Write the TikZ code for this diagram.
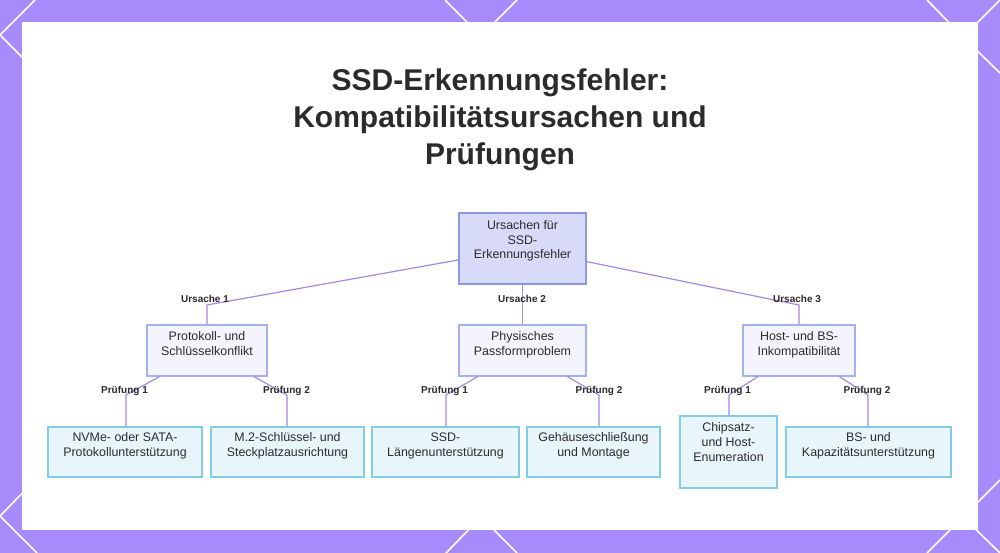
\documentclass[tikz,border=0pt]{standalone}
\usepackage{fontspec}
\setmainfont{Liberation Sans}
\usetikzlibrary{positioning, calc}
\definecolor{VioletBg}{HTML}{A78BFA}
\definecolor{LinkColor}{HTML}{A48AE0}
\definecolor{RootFill}{HTML}{D7DBF8}
\definecolor{RootDraw}{HTML}{8C97E0}
\definecolor{MidFill}{HTML}{F3F4FE}
\definecolor{MidDraw}{HTML}{A3B1EE}
\definecolor{LeafFill}{HTML}{E8F6FC}
\definecolor{LeafDraw}{HTML}{80CDE5}
\definecolor{TextDark}{HTML}{2B2B2B}

\begin{document}
\begin{tikzpicture}[
        x=0.75pt, y=-0.75pt,
        box/.style={rectangle, draw=MidDraw, fill=MidFill, line width=0.9pt, align=center, inner sep=2pt, text depth=11pt, text=TextDark, font=\fontsize{9.3}{11.25}\selectfont},
        rootbox/.style={box, draw=RootDraw, fill=RootFill, text depth=13pt},
        leafbox/.style={box, draw=LeafDraw, fill=LeafFill, minimum height=37.5pt, text depth=11.5pt},
        link/.style={draw=LinkColor, line width=0.9pt},
        lbl/.style={font=\fontsize{7.5}{9}\selectfont\bfseries, text=TextDark, inner sep=1pt},
        hexline/.style={draw=white, line width=1.2pt}
      ]
        \useasboundingbox (0,0) rectangle (1000,553);
        % Background
        \fill[VioletBg] (0,0) rectangle (1000,553);
        \draw[hexline] (35,0) -- (0,35) -- (40,75);
        \draw[hexline] (40,475) -- (0,516) -- (37,553);
        \draw[hexline] (445,0) -- (481,36) -- (517,0);
        \draw[hexline] (446,553) -- (481,517) -- (517,553);
        \draw[hexline] (927,0) -- (963,37) -- (1000,0);
        \draw[hexline] (963,37) -- (1000,73);
        \draw[hexline] (927,553) -- (963,517) -- (1000,553);
        \draw[hexline] (963,517) -- (1000,480);
        \fill[white] (22,22) rectangle (978,530);

        % Title
        \node[font=\fontsize{22.5}{27.75}\selectfont\bfseries, text=TextDark, align=center] (title) at (500,120)
          {SSD-Erkennungsfehler:\\Kompatibilitätsursachen und\\Prüfungen};

        % Nodes
        \node[rootbox, minimum width=95.25pt, minimum height=53.25pt, font=\fontsize{9.3}{10.9}\selectfont] (root) at (522.5,248.5)
          {Ursachen für\\SSD-\\Erkennungsfehler};
        \node[box, minimum width=90pt, minimum height=38.25pt] (proto) at (207,350.5) {Protokoll- und\\Schlüsselkonflikt};
        \node[box, minimum width=95.25pt, minimum height=38.25pt] (phys) at (522.5,350.5) {Physisches\\Passformproblem};
        \node[box, minimum width=84pt, minimum height=38.25pt] (host) at (799,350.5) {Host- und BS-\\Inkompatibilität};

        \node[leafbox, minimum width=115.5pt] (nvme) at (125,452) {NVMe- oder SATA-\\Protokollunterstützung};
        \node[leafbox, minimum width=114.75pt] (mkey) at (287.5,452) {M.2-Schlüssel- und\\Steckplatzausrichtung};
        \node[leafbox, minimum width=110.25pt] (laenge) at (445.5,452) {SSD-\\Längenunterstützung};
        \node[leafbox, minimum width=99.75pt] (gehaeuse) at (593.5,452) {Gehäuseschließung\\und Montage};
        \node[leafbox, minimum width=72.75pt, minimum height=54pt, text depth=15pt] (chip) at (728.5,452) {Chipsatz-\\und Host-\\Enumeration};
        \node[leafbox, minimum width=123.75pt] (bskap) at (868.5,452) {BS- und\\Kapazitätsunterstützung};

        % Bends
        \coordinate (u1) at (207,305);
        \coordinate (u3) at (799,305);
        \coordinate (p11) at (126,395);
        \coordinate (p12) at (287,395);
        \coordinate (p21) at (446,395);
        \coordinate (p22) at (599,395);
        \coordinate (p31) at (729,395);
        \coordinate (p32) at (868,395);

        % Edges
        \draw[link] (root) -- (u1) -- (proto);
        \draw[link] (root) -- (phys);
        \draw[link] (root) -- (u3) -- (host);
        \draw[link] (proto) -- (p11) -- (p11 |- nvme.north);
        \draw[link] (proto) -- (p12) -- (p12 |- mkey.north);
        \draw[link] (phys) -- (p21) -- (p21 |- laenge.north);
        \draw[link] (phys) -- (p22) -- (p22 |- gehaeuse.north);
        \draw[link] (host) -- (p31) -- (p31 |- chip.north);
        \draw[link] (host) -- (p32) -- (p32 |- bskap.north);

        % Labels
        \node[lbl] at (205,299) {Ursache 1};
        \node[lbl] at (522,299) {Ursache 2};
        \node[lbl] at (797,299) {Ursache 3};
        \node[lbl] at (124.5,391) {Prüfung 1};
        \node[lbl] at (286.5,391) {Prüfung 2};
        \node[lbl] at (444.5,391) {Prüfung 1};
        \node[lbl] at (599,391) {Prüfung 2};
        \node[lbl] at (727.5,391) {Prüfung 1};
        \node[lbl] at (867,391) {Prüfung 2};
      \end{tikzpicture}
\end{document}
